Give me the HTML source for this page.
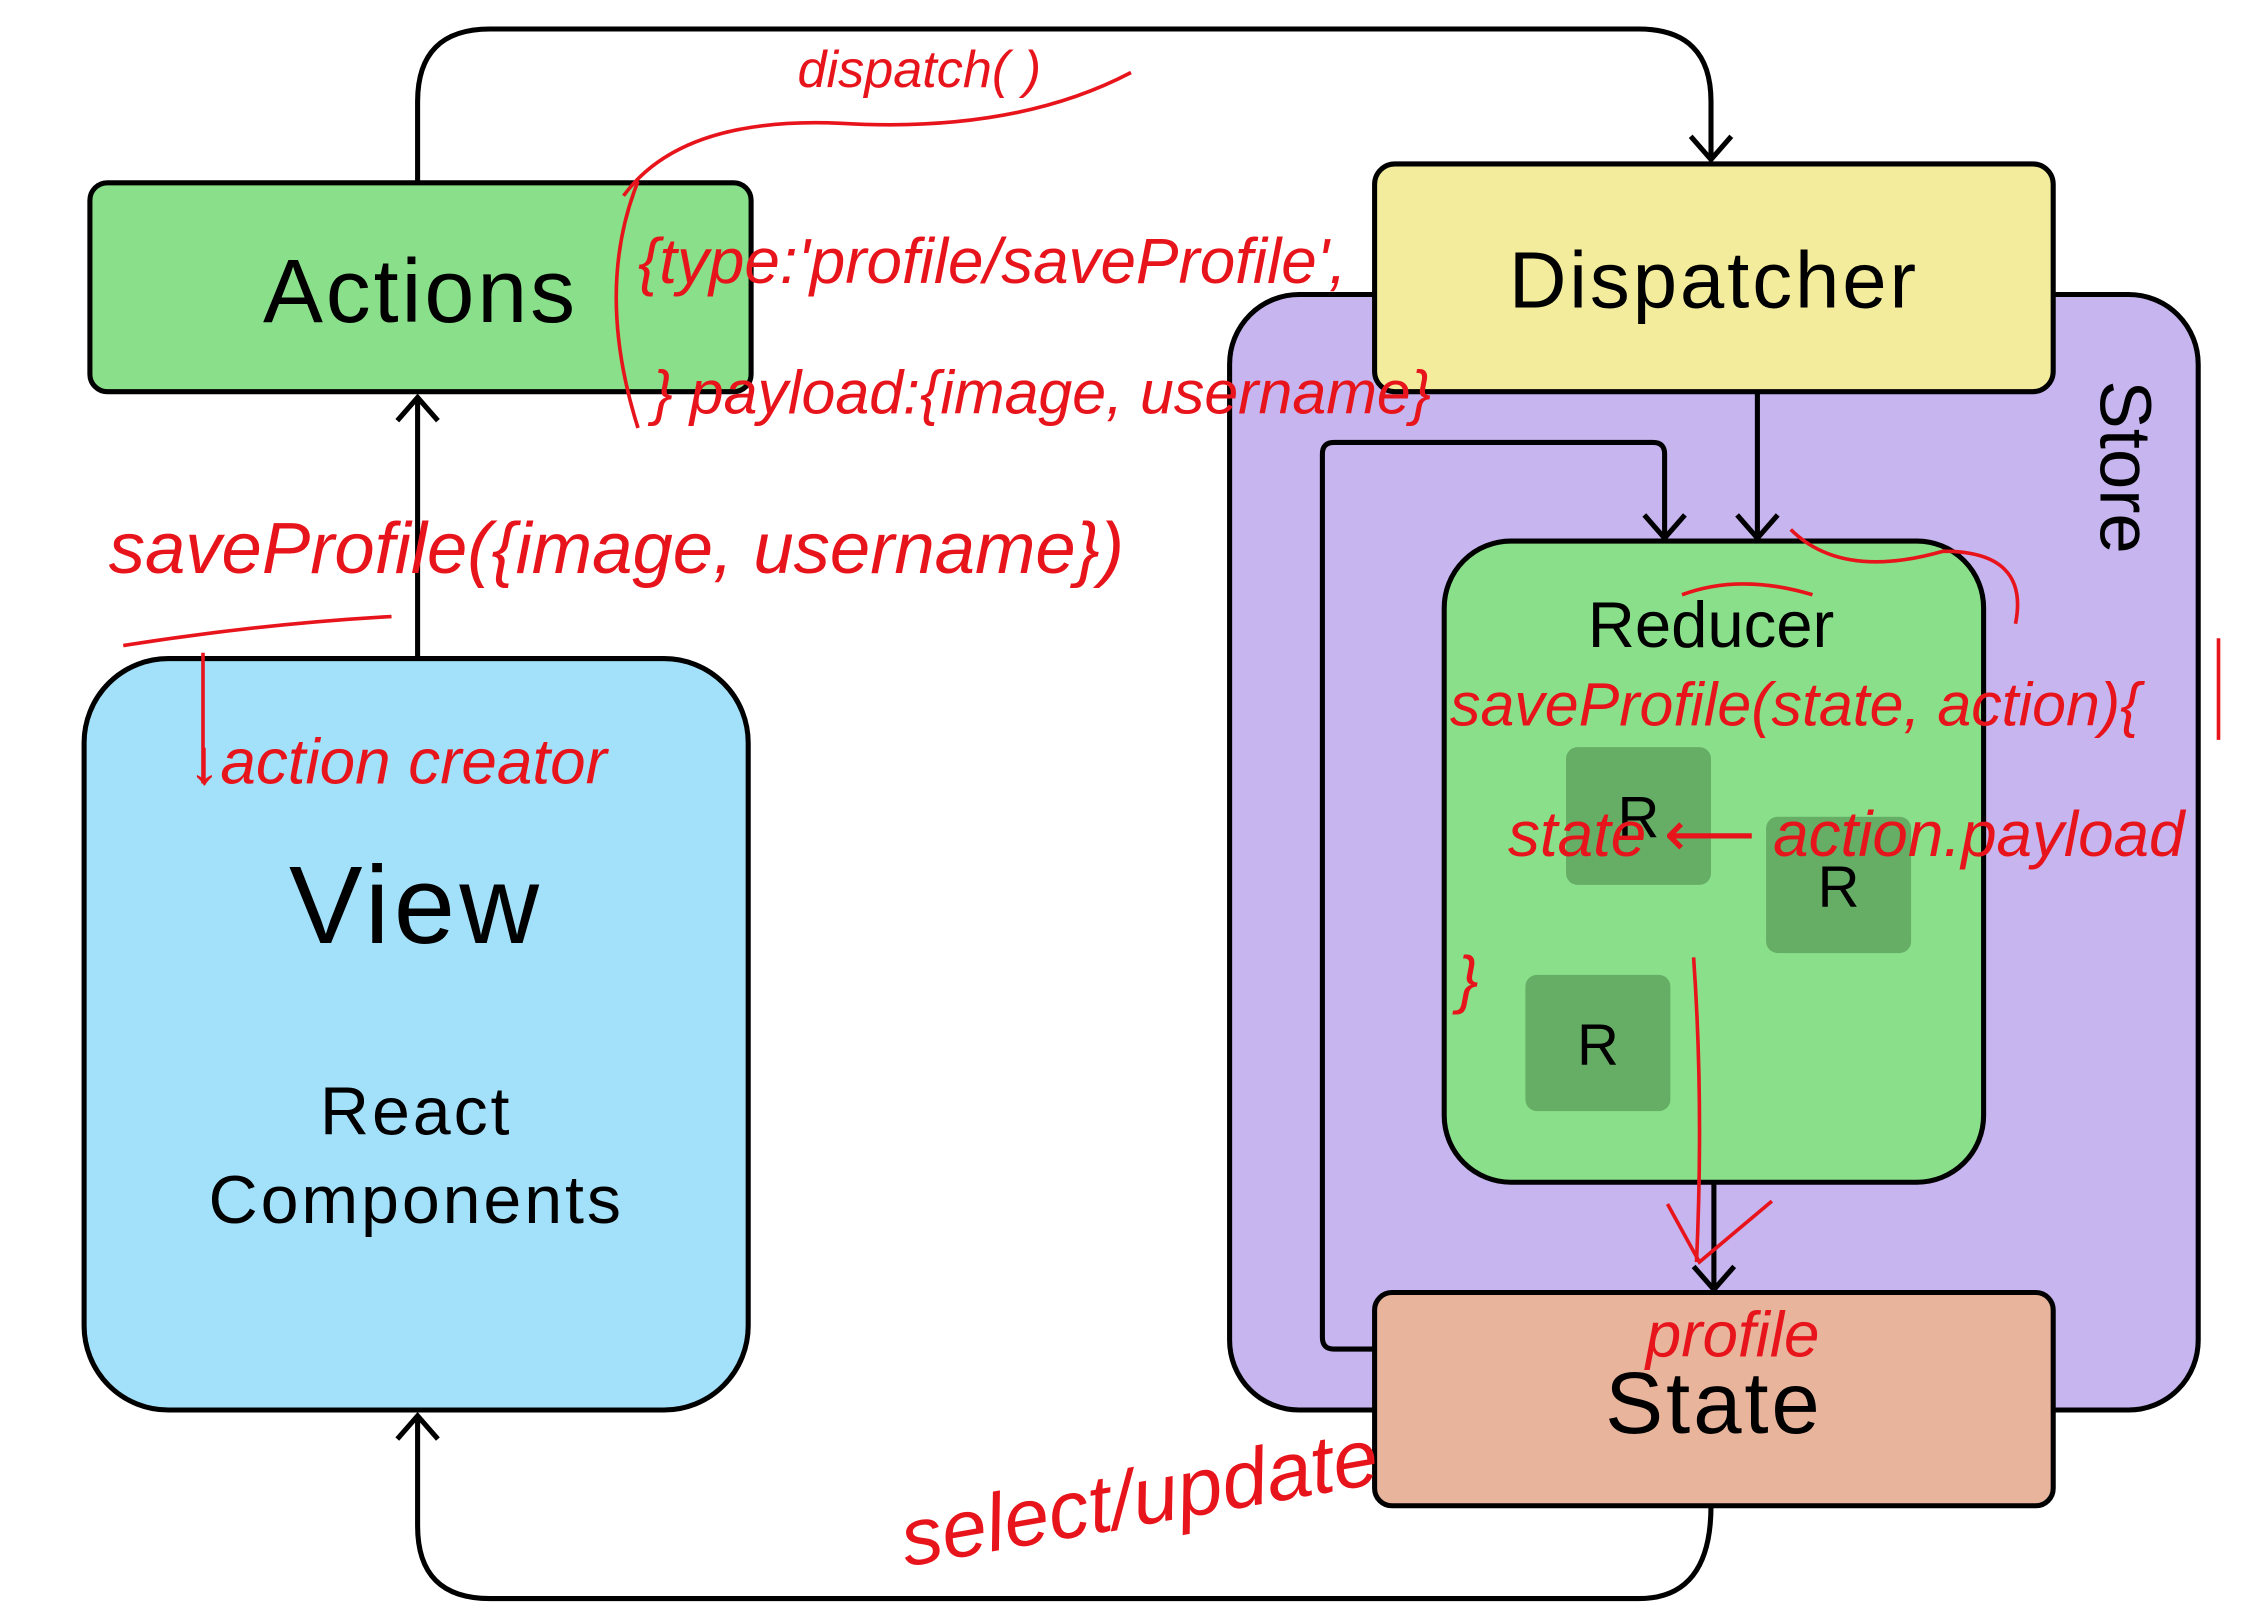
<!DOCTYPE html>
<html><head><meta charset="utf-8"><style>
html,body{margin:0;padding:0;background:#fff;}
svg{display:block;}
text{font-family:"Liberation Sans","DejaVu Sans",sans-serif;}
.r{fill:#e8141c;font-family:"Liberation Serif",serif;font-style:italic;}
</style></head><body>
<svg width="2262" height="1616" viewBox="0 0 1560 1114" preserveAspectRatio="none" xmlns="http://www.w3.org/2000/svg">
<rect width="1560" height="1114" fill="#fff"/>
<g fill="none" stroke="#000" stroke-width="3.5">
<!-- top loop -->
<path d="M288 126 V70 Q288 20 338 20 H1130 Q1180 20 1180 70 V110"/>
<path d="M1166 94 L1180 110 L1194 94"/>
<!-- bottom loop -->
<path d="M1180 1038 Q1180 1102 1130 1102 H338 Q288 1102 288 1052 V976"/>
<path d="M274 992 L288 976 L302 992"/>
<!-- view to actions -->
<path d="M288 454 V274"/>
<path d="M274 290 L288 274 L302 290"/>
</g>
<!-- Store -->
<rect x="848" y="203" width="668" height="769" rx="48" fill="#c7b5ef" stroke="#000" stroke-width="3.5"/>
<g fill="none" stroke="#000" stroke-width="3.5">
<path d="M948 930 H920 Q912 930 912 922 V313 Q912 305 920 305 H1140 Q1148 305 1148 313 V370"/>
<path d="M1134 355 L1148 371 L1162 355"/>
<path d="M1212 270 V370"/>
<path d="M1198 355 L1212 371 L1226 355"/>
<path d="M1182 815 V888"/>
<path d="M1168 873 L1182 889 L1196 873"/>
</g>
<text x="1462" y="322" font-size="50" transform="rotate(90 1462 322)" text-anchor="middle" dominant-baseline="middle">Store</text>
<!-- Reducer -->
<rect x="996" y="373" width="372" height="442" rx="46" fill="#8ae08a" stroke="#000" stroke-width="3.5"/>
<text x="1180" y="446" font-size="45" text-anchor="middle">Reducer</text>
<rect x="1080" y="515" width="100" height="95" rx="8" fill="#66ad66"/>
<rect x="1218" y="563" width="100" height="94" rx="8" fill="#66ad66"/>
<rect x="1052" y="672" width="100" height="94" rx="8" fill="#66ad66"/>
<text x="1130" y="577" font-size="40" text-anchor="middle">R</text>
<text x="1268" y="625" font-size="40" text-anchor="middle">R</text>
<text x="1102" y="734" font-size="40" text-anchor="middle">R</text>
<!-- Actions -->
<rect x="62" y="126" width="456" height="144" rx="12" fill="#8ae08a" stroke="#000" stroke-width="3.5"/>
<text x="290" y="222" font-size="62" text-anchor="middle" letter-spacing="2">Actions</text>
<!-- Dispatcher -->
<rect x="948" y="113" width="468" height="157" rx="14" fill="#f2ec9c" stroke="#000" stroke-width="3.5"/>
<text x="1182" y="212" font-size="55" text-anchor="middle" letter-spacing="2">Dispatcher</text>
<!-- State -->
<rect x="948" y="891" width="468" height="147" rx="12" fill="#e8b49c" stroke="#000" stroke-width="3.5"/>
<text x="1182" y="988" font-size="60" text-anchor="middle" letter-spacing="2">State</text>
<!-- View -->
<rect x="58" y="454" width="458" height="518" rx="58" fill="#a3e1fa" stroke="#000" stroke-width="3.5"/>
<text x="287" y="650" font-size="76" text-anchor="middle" letter-spacing="3">View</text>
<text x="287" y="782" font-size="47" text-anchor="middle" letter-spacing="2">React</text>
<text x="287" y="843" font-size="47" text-anchor="middle" letter-spacing="2">Components</text>
<!-- red annotations -->
<g class="r">
<text x="550" y="60" font-size="36">dispatch( )</text>
<text x="440" y="195" font-size="44">{type:'profile/saveProfile',</text>
<text x="450" y="285" font-size="42">} payload:{image, username}</text>
<text x="75" y="395" font-size="50">saveProfile({image, username})</text>
<text x="130" y="540" font-size="44">↓action creator</text>
<text x="1000" y="500" font-size="42">saveProfile(state, action){</text>
<text x="1040" y="590" font-size="44">state ⟵ action.payload</text>
<text x="1005" y="690" font-size="44">}</text>
<text x="1135" y="935" font-size="44">profile</text>
<text x="625" y="1080" font-size="56" transform="rotate(-10 625 1080)">select/update</text>
</g>
<g fill="none" stroke="#e8141c" stroke-width="2.5">
<path d="M440 125 Q410 200 440 295"/>
<path d="M430 135 Q470 80 580 85 Q700 92 780 50"/>
<path d="M85 445 Q180 430 270 425"/>
<path d="M140 450 V540"/>
<path d="M1168 660 Q1175 760 1170 870"/>
<path d="M1150 830 L1172 870 L1222 828"/>
<path d="M1160 410 Q1200 395 1250 410 M1235 365 Q1270 400 1340 380 Q1400 380 1390 430"/>
<path d="M1530 440 V510"/>
</g>
</svg>
</body></html>
